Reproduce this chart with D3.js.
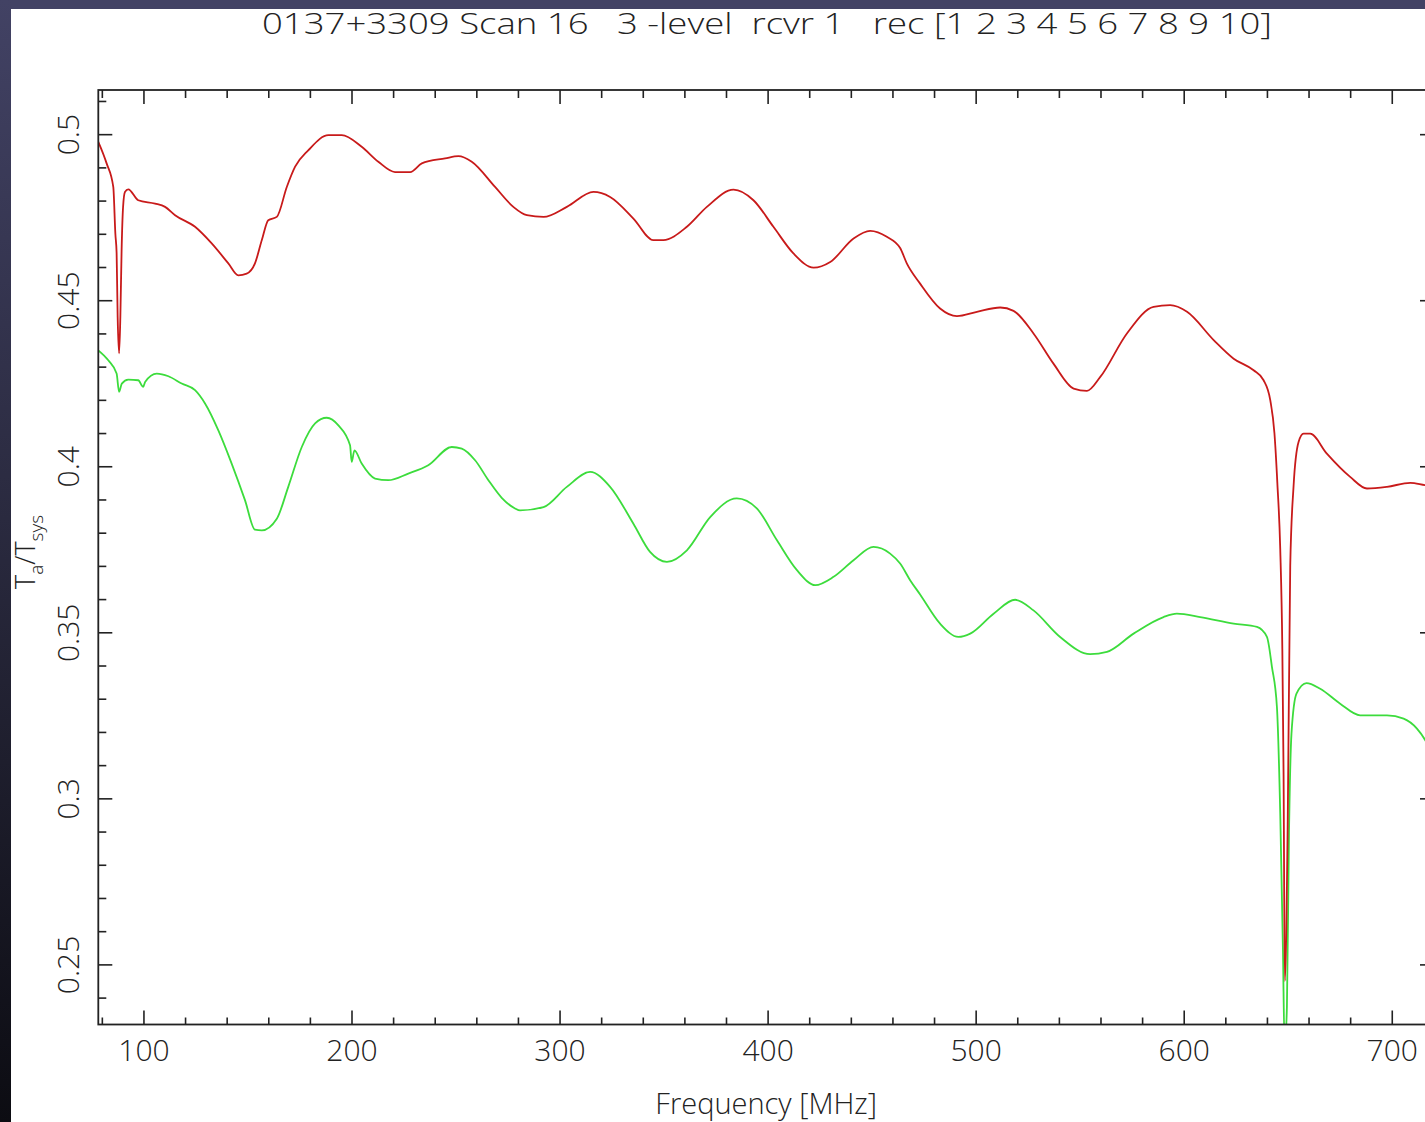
<!DOCTYPE html>
<html><head><meta charset="utf-8">
<script src="https://cdn.jsdelivr.net/npm/d3@7"></script>
<style>
html,body{margin:0;padding:0;background:#fff;overflow:hidden;}
svg{display:block;}
text{font-family:"Open Sans","DejaVu Sans",sans-serif;font-weight:300;fill:#222;}
</style></head>
<body>
<script>
// ---- data ----
const titleText = "0137+3309 Scan 16   3 -level  rcvr 1   rec [1 2 3 4 5 6 7 8 9 10]";
const xTicks = [100, 200, 300, 400, 500, 600, 700];
const yTicks = [0.25, 0.3, 0.35, 0.4, 0.45, 0.5];
const yTickLabels = ["0.25", "0.3", "0.35", "0.4", "0.45", "0.5"];

const redFreq = [78.3,82.3,85.5,86.5,87.1,87.6,88.3,88.9,89.5,90.2,91.1,92.7,97.5,105.6,110.4,115.2,124.8,132.8,140.8,145.6,149.6,153.6,156.9,160.0,164.1,168.9,172.9,179.3,188.9,195.3,204.9,212.9,220.9,228.2,233.8,245.0,251.4,257.8,269.0,277.8,284.3,292.3,303.5,316.3,324.3,335.5,345.1,349.9,361.2,370.8,383.6,393.2,402.8,412.4,422.1,430.1,441.3,449.3,457.3,463.7,466.9,473.3,482.9,491.0,500.6,511.8,518.2,527.8,537.4,547.1,553.5,559.9,572.7,585.5,593.5,601.6,614.4,624.0,633.6,638.4,641.6,643.6,645.0,646.4,647.4,648.0,648.6,650.0,651.2,652.8,655.2,657.6,660.8,668.8,680.0,688.1,697.7,708.9,716.1,720.2];
const redVal  = [0.4977,0.4912,0.4841,0.470,0.4642,0.445,0.434,0.445,0.465,0.478,0.4826,0.4834,0.4801,0.4791,0.4781,0.4756,0.4721,0.4671,0.4611,0.4575,0.458,0.4611,0.4681,0.4741,0.4751,0.4841,0.4902,0.4952,0.4997,0.4997,0.4962,0.4917,0.4886,0.4886,0.4912,0.4927,0.4934,0.4917,0.4841,0.4781,0.4756,0.4751,0.4781,0.4826,0.4811,0.4746,0.4681,0.4681,0.4721,0.4781,0.4833,0.4801,0.4721,0.4641,0.4598,0.4615,0.4686,0.4709,0.4691,0.4657,0.4611,0.455,0.4475,0.4452,0.4465,0.4478,0.4468,0.44,0.4309,0.4234,0.4227,0.4269,0.44,0.448,0.4485,0.4465,0.438,0.4324,0.4289,0.4259,0.4199,0.410,0.395,0.375,0.345,0.307,0.245,0.293,0.37,0.394,0.4073,0.4098,0.4098,0.4038,0.3968,0.3933,0.3938,0.395,0.3943,0.394];

const greenFreq = [78.3,83.1,87.1,88.3,89.6,92.7,97.5,99.9,100.8,106.4,112.0,118.4,124.8,129.6,136.0,142.4,148.8,153.6,156.9,164.1,169.6,176.1,182.5,188.1,193.7,199.3,200.1,201.4,204.9,211.3,217.7,227.3,236.9,248.2,253.0,259.4,265.8,272.2,278.6,281.0,292.3,303.5,314.7,324.3,335.5,343.5,351.6,361.2,372.4,385.2,394.8,404.5,414.1,422.9,431.7,441.3,450.9,458.9,463.7,468.5,473.3,482.9,491.7,497.4,508.6,519.0,527.8,540.6,555.0,563.1,575.9,590.3,596.7,607.9,624.0,635.2,640.0,642.4,644.8,646.4,647.7,648.5,649.6,650.6,651.8,654.2,659.0,665.6,675.2,684.8,697.7,705.7,712.1,716.1,720.2];
const greenVal  = [0.4349,0.4319,0.4279,0.4224,0.4249,0.4261,0.4259,0.4239,0.4254,0.4279,0.4271,0.4249,0.4229,0.4189,0.4108,0.4008,0.3898,0.3809,0.3807,0.3842,0.3938,0.4058,0.4129,0.4146,0.4123,0.4063,0.4013,0.4048,0.4008,0.3963,0.3958,0.3978,0.4003,0.4058,0.4053,0.4018,0.3958,0.3905,0.3873,0.3867,0.3877,0.3938,0.3983,0.3938,0.3827,0.3742,0.3712,0.3747,0.3847,0.3903,0.3873,0.3777,0.3687,0.3642,0.3667,0.3717,0.3757,0.3737,0.3707,0.3657,0.3614,0.3526,0.3486,0.3496,0.3556,0.3598,0.3566,0.3486,0.3434,0.3441,0.3496,0.3546,0.3556,0.3546,0.3526,0.3516,0.3486,0.3396,0.3275,0.2954,0.2542,0.225,0.2371,0.2894,0.3195,0.3315,0.3347,0.333,0.3285,0.325,0.325,0.324,0.321,0.3175,0.312];

// ---- layout ----
const W = 1425, H = 1122;
const L = 98.3, R = 1434, T = 90, B = 1024.5;
const xDomain = [78.3, 720.3];
const yDomain = [0.2319, 0.5133];

const svg = d3.select("body").append("svg").attr("width", W).attr("height", H);
const defs = svg.append("defs");
const grad = defs.append("linearGradient").attr("id","lg").attr("x1",0).attr("y1",0).attr("x2",0).attr("y2",1);
grad.append("stop").attr("offset","0").attr("stop-color","#424264");
grad.append("stop").attr("offset","0.5").attr("stop-color","#28283c");
grad.append("stop").attr("offset","1").attr("stop-color","#0c0c12");
svg.append("rect").attr("x",0).attr("y",0).attr("width",W).attr("height",H).attr("fill","#fff");
svg.append("rect").attr("x",0).attr("y",0).attr("width",W).attr("height",9).attr("fill","#424264");
svg.append("rect").attr("x",0).attr("y",0).attr("width",11).attr("height",H).attr("fill","url(#lg)");

defs.append("clipPath").attr("id","clip").append("rect").attr("x",L).attr("y",T).attr("width",R-L).attr("height",B-T);

const x = d3.scaleLinear().domain(xDomain).range([L, R]);
const y = d3.scaleLinear().domain(yDomain).range([B, T]);

const line = d3.line().curve(d3.curveMonotoneX).x(d => x(d[0])).y(d => y(d[1]));
const green = greenFreq.map((f,i)=>[f, greenVal[i]]);
const red = redFreq.map((f,i)=>[f, redVal[i]]);
const g = svg.append("g").attr("clip-path","url(#clip)");
g.append("path").attr("d", line(green)).attr("fill","none").attr("stroke","#3cdc3c").attr("stroke-width",1.8).attr("stroke-linejoin","round");
g.append("path").attr("d", line(red)).attr("fill","none").attr("stroke","#c81a1a").attr("stroke-width",1.8).attr("stroke-linejoin","round");

// axes
const axisColor = "#222";
function style(sel){
  sel.select(".domain").remove();
  sel.selectAll(".tick line").attr("stroke",axisColor).attr("stroke-width",1.6);
}
const xMinor = d3.range(4, 37).map(v=>v*20).filter(v=>v%100!==0);
const yMinor = d3.range(24, 52).map(v=>v/100).filter(v=>Math.round(v*100)%5!==0);

const bottom = svg.append("g").attr("transform",`translate(0,${B})`)
  .call(d3.axisBottom(x).tickValues(xTicks).tickSize(-14).tickSizeOuter(0).tickPadding(15).tickFormat(d3.format("d")));
style(bottom);
bottom.selectAll("text").attr("font-size",30).attr("fill","#222").attr("font-family",null);
svg.append("g").attr("transform",`translate(0,${B})`).call(d3.axisBottom(x).tickValues(xMinor).tickSize(-7).tickFormat("")).call(style);
svg.append("g").attr("transform",`translate(0,${T})`).call(d3.axisTop(x).tickValues(xTicks).tickSize(-14).tickFormat("")).call(style);
svg.append("g").attr("transform",`translate(0,${T})`).call(d3.axisTop(x).tickValues(xMinor).tickSize(-8).tickFormat("")).call(style);

const left = svg.append("g").attr("transform",`translate(${L},0)`)
  .call(d3.axisLeft(y).tickValues(yTicks).tickSize(-14).tickSizeOuter(0).tickFormat((d,i)=>yTickLabels[i]));
style(left);
left.selectAll("text").attr("font-size",30).attr("fill","#222").attr("font-family",null)
  .attr("x",null).attr("dy",null).attr("text-anchor","middle")
  .attr("transform","translate(-19,0) rotate(-90)");
svg.append("g").attr("transform",`translate(${L},0)`).call(d3.axisLeft(y).tickValues(yMinor).tickSize(-8).tickFormat("")).call(style);
svg.append("g").attr("transform",`translate(${R},0)`).call(d3.axisRight(y).tickValues(yTicks).tickSize(-14).tickFormat("")).call(style);
svg.append("g").attr("transform",`translate(${R},0)`).call(d3.axisRight(y).tickValues(yMinor).tickSize(-8).tickFormat("")).call(style);

// frame
svg.append("rect").attr("x",L).attr("y",T).attr("width",R-L).attr("height",B-T)
  .attr("fill","none").attr("stroke",axisColor).attr("stroke-width",1.8);

// title
svg.append("text").attr("x", 262).attr("y", 34).attr("font-size",29)
  .attr("textLength",1010).attr("lengthAdjust","spacingAndGlyphs")
  .style("white-space","pre").text(titleText);

// x label
svg.append("text").attr("x", (L+R)/2).attr("y", 1114).attr("font-size",29)
  .attr("text-anchor","middle").text("Frequency [MHz]");

// y label
const yl = svg.append("text").attr("transform","translate(35,552) rotate(-90)")
  .attr("text-anchor","middle").attr("font-size",27);
yl.append("tspan").text("T");
yl.append("tspan").attr("font-size",19).attr("dy",8).text("a");
yl.append("tspan").attr("dy",-8).text("/T");
yl.append("tspan").attr("font-size",19).attr("dy",8).text("sys");
</script>
</body></html>
